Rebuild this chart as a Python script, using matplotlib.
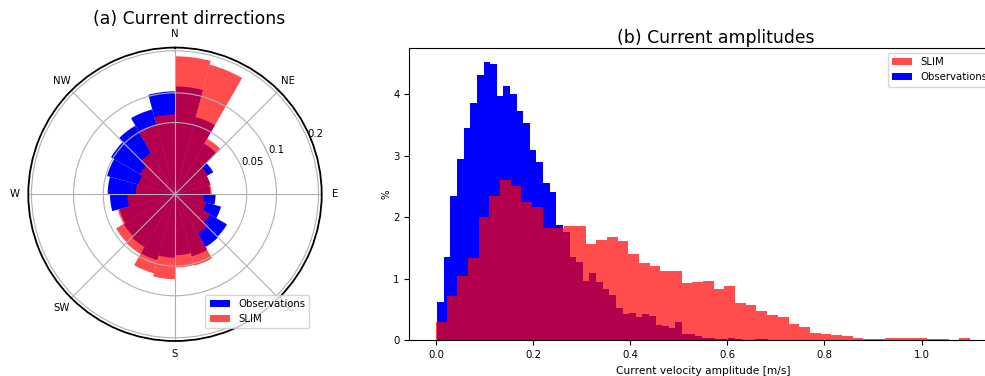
import numpy as np
import matplotlib
matplotlib.use('Agg')
import matplotlib.pyplot as plt

####### direction histogram (fraction per 15 deg sector, clockwise from N)
sector_start_deg = np.arange(0, 360, 15)
obs_dir = [0.113, 0.062, 0.033, 0.019, 0.013, 0.012, 0.016, 0.022, 0.035, 0.036, 0.040, 0.036,
           0.039, 0.045, 0.036, 0.034, 0.032, 0.041, 0.044, 0.048, 0.053, 0.061, 0.075, 0.103]
slim_dir = [0.185, 0.175, 0.040, 0.014, 0.013, 0.013, 0.008, 0.010, 0.016, 0.020, 0.053, 0.052,
            0.070, 0.065, 0.046, 0.045, 0.034, 0.022, 0.015, 0.014, 0.016, 0.022, 0.050, 0.062]
compass = ['N', 'NE', 'E', 'SE', 'S', 'SW', 'W', 'NW']
r_ticks = [0.05, 0.1, 0.2]
r_labels = ['0.05', '0.1', '0.2']

####### amplitude histogram (density, 50 bins each)
obs_range = (0.0025, 0.684)
slim_range = (0.0, 1.10)
obs_amp = [0.62, 1.35, 2.35, 2.94, 3.45, 3.86, 4.31, 4.52, 4.49, 3.97,
           4.13, 4.01, 3.73, 3.53, 3.10, 2.90, 2.56, 2.41, 1.88, 1.76,
           1.36, 1.28, 0.96, 1.10, 0.95, 0.84, 0.735, 0.52, 0.43, 0.44,
           0.38, 0.42, 0.39, 0.25, 0.23, 0.205, 0.29, 0.11, 0.10, 0.065,
           0.045, 0.03, 0.02, 0.02, 0.045, 0.025, 0.01, 0.005, 0.025, 0.025]
slim_amp = [0.30, 0.72, 1.04, 1.33, 2.01, 2.35, 2.61, 2.50, 2.25, 2.17,
            1.83, 1.83, 1.855, 1.86, 1.56, 1.63, 1.68, 1.62, 1.40, 1.26,
            1.21, 1.13, 1.13, 0.93, 0.95, 0.96, 0.84, 0.88, 0.60, 0.58,
            0.48, 0.41, 0.38, 0.26, 0.22, 0.12, 0.10, 0.08, 0.07, 0.04,
            0.015, 0.015, 0.03, 0.03, 0.04, 0.04, 0.02, 0.015, 0.005, 0.03]

plt.rcParams['font.size'] = 7.3

fig = plt.figure(figsize=(9.85, 3.76), dpi=100)

# (a) rose
ax1 = fig.add_axes([28.3 / 985, 35 / 376, 293.4 / 985, 293.4 / 376], projection='polar')
ax1.set_theta_zero_location('N')
ax1.set_theta_direction(-1)
ax1.set_rscale('function', functions=(lambda r: np.sqrt(np.clip(r, 0, None)), lambda r: np.square(r)))
theta = np.deg2rad(sector_start_deg)
width = np.deg2rad(15)
ax1.bar(theta, obs_dir, width=width, align='edge', color='blue', label='Observations')
ax1.bar(theta, slim_dir, width=width, align='edge', color='red', alpha=0.7, label='SLIM')
ax1.set_rlim(0, 0.209)
ax1.set_rticks(r_ticks)
ax1.set_yticklabels(r_labels)
ax1.set_rlabel_position(67.5)
ax1.set_thetagrids(np.arange(0, 360, 45), compass)
ax1.tick_params(axis='x', pad=-0.8)
ax1.spines['polar'].set_linewidth(1.3)
ax1.set_title('(a) Current dirrections', fontsize=12.4, x=0.548, y=1.053)
ax1.legend(loc='lower right', bbox_to_anchor=(0.957, 0.044), borderaxespad=0)

# (b) amplitudes
ax2 = fig.add_axes([409.3 / 985, 35.7 / 376, 587.5 / 985, 292 / 376])
obs_edges = np.linspace(obs_range[0], obs_range[1], len(obs_amp) + 1)
slim_edges = np.linspace(slim_range[0], slim_range[1], len(slim_amp) + 1)
b_obs = ax2.bar(obs_edges[:-1], obs_amp, width=np.diff(obs_edges), align='edge',
                color='blue', label='Observations')
b_slim = ax2.bar(slim_edges[:-1], slim_amp, width=np.diff(slim_edges), align='edge',
                 color='red', alpha=0.7, label='SLIM')
ax2.set_xlabel('Current velocity amplitude [m/s]', fontsize=7.7)
ax2.set_ylabel('%', labelpad=1)
ax2.set_title('(b) Current amplitudes', fontsize=12.4, x=0.522, pad=3.8)
ax2.legend(handles=[b_slim, b_obs], loc='upper right')

fig.savefig('out.png', dpi=100)
